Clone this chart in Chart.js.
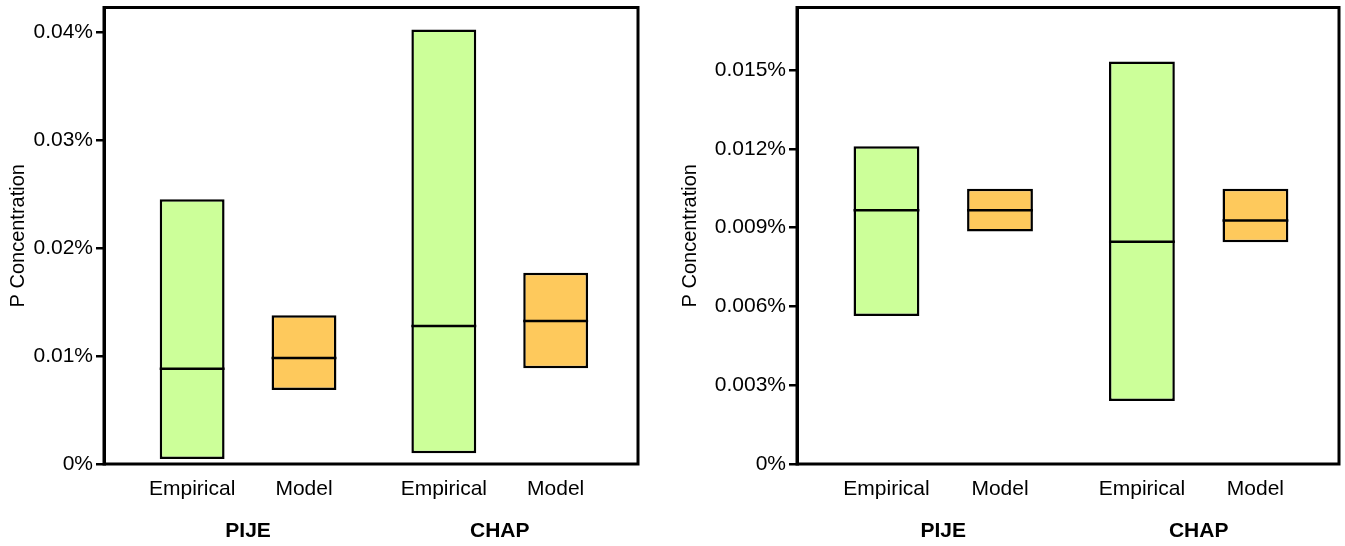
<!DOCTYPE html>
<html>
<head>
<meta charset="utf-8">
<script src="https://cdn.jsdelivr.net/npm/chart.js@4.4.1/dist/chart.umd.min.js"></script>
<style>
  html, body { margin: 0; padding: 0; background: #fff; }
  #wrap { position: relative; width: 1345px; height: 546px; }
  .panel { position: absolute; top: 0; height: 546px; }
  #leftPanel { left: 0; width: 672px; }
  #rightPanel { left: 672px; width: 673px; }
</style>
</head>
<body>
<div id="wrap">
  <div class="panel" id="leftPanel"><canvas id="leftChart"></canvas></div>
  <div class="panel" id="rightPanel"><canvas id="rightChart"></canvas></div>
</div>
<script>
// categorias
const groups = ['PIJE', 'CHAP'];
const methods = ['Empirical', 'Model'];

// panel izquierdo (valores en %)
const leftLow = [0.00047, 0.00685, 0.00100, 0.00887];
const leftMedian = [0.00883, 0.00982, 0.01278, 0.01326];
const leftHigh = [0.02453, 0.01378, 0.04025, 0.01772];
const leftTicks = [0, 0.01, 0.02, 0.03, 0.04];
const leftTickLabels = ['0%', '0.01%', '0.02%', '0.03%', '0.04%'];

// panel derecho (valores en %)
const rightLow = [0.00563, 0.00885, 0.00240, 0.00844];
const rightMedian = [0.00966, 0.00966, 0.00846, 0.00927];
const rightHigh = [0.01210, 0.01048, 0.01532, 0.01048];
const rightTicks = [0, 0.003, 0.006, 0.009, 0.012, 0.015];
const rightTickLabels = ['0%', '0.003%', '0.006%', '0.009%', '0.012%', '0.015%'];

const fills = { Empirical: '#CCFF99', Model: '#FEC95C' };
const groupStep = 2.25; // separacion extra entre grupos

// posiciones en el eje x
const slotPos = [], slotLabels = [], slotColors = [];
groups.forEach((g, gi) => {
    methods.forEach((m, mi) => {
        slotPos.push(gi * groupStep + mi);
        slotLabels.push(m);
        slotColors.push(fills[m]);
    });
});
const groupPos = groups.map((g, gi) => gi * groupStep + (methods.length - 1) / 2);

// dibuja medianas y el marco completo
const boxFrame = {
    id: 'boxFrame',
    afterDatasetsDraw(chart, args, opts) {
        const ctx = chart.ctx;
        const meta = chart.getDatasetMeta(0);
        const yScale = chart.scales.y;
        ctx.save();
        ctx.strokeStyle = '#000';
        ctx.lineWidth = 2.5;
        meta.data.forEach((bar, i) => {
            const py = yScale.getPixelForValue(opts.medians[i]);
            ctx.beginPath();
            ctx.moveTo(bar.x - bar.width / 2, py);
            ctx.lineTo(bar.x + bar.width / 2, py);
            ctx.stroke();
        });
        const a = chart.chartArea;
        ctx.lineWidth = 3;
        ctx.strokeRect(a.left, a.top, a.right - a.left, a.bottom - a.top);
        ctx.restore();
    }
};

function flatX(axis, h) {
    axis.height = h;
    axis.paddingLeft = 0;
    axis.paddingRight = 0;
}

function makeChart(canvasId, low, median, high, yMax, tickValues, tickLabels, axisWidth, padRight) {
    const xMin = -0.788, xMax = 3.986;
    return new Chart(document.getElementById(canvasId), {
        type: 'bar',
        data: {
            datasets: [{
                data: slotPos.map((x, i) => ({ x: x, y: [low[i], high[i]] })),
                backgroundColor: slotColors,
                borderColor: '#000',
                borderWidth: 2.5,
                borderSkipped: false,
                barPercentage: 0.58,
                categoryPercentage: 1
            }]
        },
        options: {
            responsive: true,
            maintainAspectRatio: false,
            animation: false,
            layout: { padding: { top: 7.5, right: padRight, bottom: 0, left: 0 } },
            plugins: {
                legend: { display: false },
                tooltip: { enabled: false },
                boxFrame: { medians: median }
            },
            scales: {
                x: {
                    type: 'linear',
                    position: 'bottom',
                    weight: 0,
                    offset: false,
                    min: xMin,
                    max: xMax,
                    afterBuildTicks: axis => { axis.ticks = slotPos.map(v => ({ value: v })); },
                    afterFit: axis => flatX(axis, 44),
                    grid: { display: false, drawTicks: false, offset: false },
                    border: { display: false },
                    ticks: {
                        padding: 13,
                        color: '#000',
                        font: { family: 'Liberation Sans', size: 21 },
                        autoSkip: false,
                        maxRotation: 0,
                        callback: (v, i) => slotLabels[i]
                    }
                },
                group: {
                    type: 'linear',
                    position: 'bottom',
                    weight: 1,
                    offset: false,
                    min: xMin,
                    max: xMax,
                    afterBuildTicks: axis => { axis.ticks = groupPos.map(v => ({ value: v })); },
                    afterFit: axis => flatX(axis, 38),
                    grid: { display: false, drawTicks: false, offset: false },
                    border: { display: false },
                    ticks: {
                        padding: 11,
                        color: '#000',
                        font: { family: 'Liberation Sans', size: 21, weight: 'bold' },
                        autoSkip: false,
                        maxRotation: 0,
                        callback: (v, i) => groups[i]
                    }
                },
                y: {
                    min: 0,
                    max: yMax,
                    afterBuildTicks: axis => { axis.ticks = tickValues.map(v => ({ value: v })); },
                    afterFit: axis => {
                        axis.width = axisWidth;
                        axis.paddingTop = 0;
                        axis.paddingBottom = 0;
                    },
                    grid: {
                        display: true,
                        drawOnChartArea: false,
                        drawTicks: true,
                        tickLength: 8,
                        color: '#000',
                        lineWidth: 2.5
                    },
                    border: { display: true, color: '#000', width: 3 },
                    ticks: {
                        padding: 3,
                        color: '#000',
                        font: { family: 'Liberation Sans', size: 21 },
                        callback: (v, i) => tickLabels[i]
                    },
                    title: {
                        display: true,
                        text: 'P Concentration',
                        color: '#000',
                        font: { family: 'Liberation Sans', size: 20 },
                        padding: { top: 6, bottom: 0 }
                    }
                }
            }
        },
        plugins: [boxFrame]
    });
}

makeChart('leftChart', leftLow, leftMedian, leftHigh, 0.0423, leftTicks, leftTickLabels, 104, 34);
makeChart('rightChart', rightLow, rightMedian, rightHigh, 0.01738, rightTicks, rightTickLabels, 125, 6);
</script>
</body>
</html>
